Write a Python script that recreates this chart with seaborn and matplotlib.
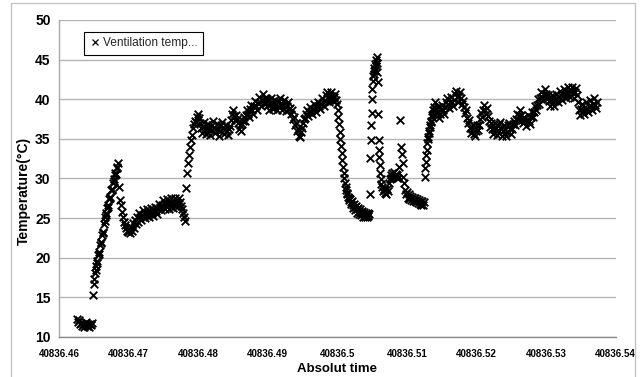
import numpy as np
import pandas as pd
import matplotlib
matplotlib.use("Agg")
import matplotlib.pyplot as plt
import seaborn as sns
from matplotlib.lines import Line2D
from matplotlib.patches import Rectangle
from matplotlib import font_manager

# ---------------- data ----------------
# logged samples, each segment evenly spaced in time between start and end
seg_start = [40836.462588, 40836.464888, 40836.468626, 40836.478258, 40836.499966,
             40836.504710, 40836.506435, 40836.512545, 40836.514054]
seg_end = [40836.464744, 40836.468482, 40836.478114, 40836.499822, 40836.504566,
           40836.506291, 40836.512473, 40836.513910, 40836.537343]

temp_a = [12.3, 11.9, 12.1, 11.6, 11.8, 11.4, 11.7, 11.3, 11.6, 11.9, 11.4, 11.7, 11.2, 11.6, 11.5, 11.8]

temp_b = [15.3, 16.7, 17.3, 18.1, 18.5, 18.9,
          19.6, 19.4, 20.4, 20.7, 20.5, 21.6, 22.0, 21.8, 22.9, 23.3, 23.1, 24.2, 24.6, 25.1,
          25.6, 25.4, 26.3, 26.6, 26.4, 27.4, 27.7, 27.6, 28.5, 28.7, 28.6, 29.4,
          29.9, 29.7, 30.5, 30.7, 30.6, 31.3, 31.5, 31.9]

temp_c = [28.9, 27.3, 26.6, 25.8, 25.2, 24.5, 24.1, 23.8, 23.4, 23.2,
          23.5, 23.1, 23.9, 23.4, 24.4, 23.8, 24.8, 24.2, 25.2, 24.5,
          25.7, 25.2, 24.8, 25.4, 26.0, 25.5, 25.0, 25.6, 26.1, 25.6,
          25.2, 25.8, 26.3, 25.7, 25.3, 25.9, 26.4, 25.9, 25.5, 26.1,
          26.8, 26.4, 26.0, 26.7, 27.3, 26.8, 26.2, 26.9, 27.4, 26.8,
          26.2, 26.9, 27.5, 26.9, 26.3, 26.8, 27.5, 27.0, 26.4, 26.9,
          27.6, 27.0, 26.5, 26.2, 25.7, 25.1, 24.6]

temp_d = [28.8, 30.7, 32.0, 33.0, 34.0, 34.8, 35.5, 36.4, 36.9, 37.3,
          37.1, 37.7, 38.2,
          37.6, 37.0, 36.4, 35.8, 36.5, 37.1, 36.3, 35.6, 36.2, 36.9,
          36.3, 35.5, 36.1, 36.8, 37.2, 36.4, 35.7, 36.3, 36.9, 36.1,
          35.4, 36.0, 36.7, 37.1, 36.4, 35.6, 36.2, 36.8, 36.0, 35.5,
          36.3, 36.6,
          37.4, 38.2, 38.6, 37.9, 37.4, 38.0, 37.5, 37.0,
          36.3, 36.8, 36.0, 36.9, 37.3, 37.8, 37.2,
          38.0, 38.6, 38.1, 37.8, 38.8, 39.3, 38.6, 38.2, 39.2, 39.8,
          39.2, 38.7, 39.5, 40.3, 39.6, 39.1, 39.9, 40.7, 40.0, 39.4,
          40.2, 40.0, 39.3, 38.7, 39.4, 40.1, 39.6, 38.8, 39.2, 39.9,
          39.4, 38.6, 39.1, 39.8, 40.1, 39.3, 38.7, 39.3, 39.9, 39.2,
          38.5, 39.1, 39.6, 38.8,
          38.9, 38.2, 38.6, 37.5, 37.8, 36.8, 37.0, 36.0, 36.2, 35.4,
          35.2, 35.9, 36.4, 37.0, 37.5,
          37.6, 38.2, 38.6, 37.9, 38.4, 39.0, 38.5, 38.1, 38.8, 39.4,
          38.9, 38.4, 39.1, 39.7, 39.2, 38.8, 39.4, 40.1, 39.6, 39.2,
          39.8, 40.5, 40.9, 40.1, 39.7, 40.3, 40.9, 40.4, 39.8, 40.3,
          40.6, 39.9]

temp_e = [39.4, 38.6, 37.8, 36.9, 35.9, 35.0, 34.1, 33.2, 32.3, 31.5,
          30.7, 30.0, 29.4, 28.9, 28.6, 28.2, 28.0, 27.7, 27.5, 27.3,
          27.4, 27.0,
          26.8, 27.2, 26.6, 26.3, 26.8, 26.4, 26.0, 26.5, 26.1, 25.7,
          26.3, 25.9, 25.5, 26.1, 25.8, 25.4, 25.9, 25.6, 25.2, 25.8,
          25.5, 25.1, 25.7, 25.4, 25.1, 25.6, 25.3, 25.5]

temp_f = [28.1, 32.6, 34.8, 36.8, 38.3, 40.0, 41.3, 42.3, 42.9, 43.6,
          43.2, 44.0, 43.7, 44.5, 44.2, 44.9, 45.3, 44.6, 43.4, 42.2,
          38.2, 34.8, 33.6, 32.7, 31.7, 30.7, 29.9, 29.3]

temp_g = [28.9, 28.4, 28.7, 28.2, 28.6, 28.1, 28.7, 28.4, 29.4, 29.9,
          30.4, 30.0, 30.7, 30.2, 30.8, 30.3, 30.6, 30.1, 30.5, 30.0,
          31.4, 37.4, 34.0, 33.1, 31.9, 30.2, 29.4, 28.6, 28.0, 28.3,
          27.6, 28.0, 27.4, 27.8, 27.3, 27.7, 27.2, 27.6, 27.1, 27.5,
          27.0, 27.4, 26.9, 27.3, 26.8, 27.2, 26.7, 27.1, 26.6, 27.0]

temp_h = [30.2, 31.3, 32.1, 33.0, 33.6, 34.5, 35.2, 35.0, 36.0, 35.8,
          36.7, 36.5, 37.3, 37.1, 38.0, 37.7, 38.6, 38.2, 39.0, 38.6]

temp_i = [39.6, 38.9, 38.3, 39.0, 37.6, 38.2, 38.8, 39.3, 38.6, 38.2,
          39.0, 39.7, 40.1, 39.4, 38.9, 39.6, 40.3, 39.7, 39.2, 39.9,
          40.6, 41.0, 40.3, 39.7, 40.4, 40.9, 40.1, 39.4,
          39.8, 39.0, 38.3, 38.6, 37.6, 37.0, 37.4, 36.4, 35.8, 36.3,
          36.8, 35.6, 35.3, 36.0, 36.7, 36.1,
          36.8, 37.5, 38.3, 37.7, 38.6, 39.3, 38.7, 38.1, 38.9,
          37.9, 37.2, 36.5, 37.0, 36.2, 35.6, 36.3, 37.0, 36.4, 35.5,
          36.1, 36.9, 37.1, 36.3, 35.4, 36.0, 36.7, 36.2, 35.3, 35.9,
          36.8, 37.0, 36.3, 35.6, 36.2, 36.9, 37.3,
          36.7, 37.5, 38.1, 37.4, 38.0, 38.7, 38.0, 37.4, 37.0,
          37.8, 37.2, 36.6, 37.4, 38.0, 37.3, 36.9, 37.7, 38.4,
          37.8, 38.4, 39.1, 38.6, 39.3, 40.0, 39.4, 40.2, 40.9, 40.3,
          39.9, 40.7, 41.3, 40.6, 40.0,
          40.5, 39.8, 39.2, 39.9, 40.5, 39.6, 39.1, 39.8, 40.6, 40.1,
          39.6, 40.3, 41.0, 40.5, 39.9, 40.6, 41.3, 40.7, 40.1, 40.8,
          41.5, 40.9, 40.3, 41.0, 41.6, 40.8, 40.2, 40.9, 41.4, 40.5,
          39.6, 38.6, 38.0, 38.8, 39.4, 38.5, 38.2, 39.0, 39.6, 38.8,
          38.4, 39.2, 39.9, 39.1, 38.6, 39.4, 40.1, 39.3, 38.9, 39.7]

segments = [temp_a, temp_b, temp_c, temp_d, temp_e, temp_f, temp_g, temp_h, temp_i]

xtick_values = [40836.46, 40836.47, 40836.48, 40836.49, 40836.50,
                40836.51, 40836.52, 40836.53, 40836.54]
xtick_labels = ["40836.46", "40836.47", "40836.48", "40836.49", "40836.5",
                "40836.51", "40836.52", "40836.53", "40836.54"]
ytick_values = [10, 15, 20, 25, 30, 35, 40, 45, 50]
series_label = "Ventilation temp..."
x_title = "Absolut time"
y_title = "Temperature(°C)"

# ---------------- build table ----------------
time = np.concatenate([np.linspace(s, e, len(t)) for s, e, t in zip(seg_start, seg_end, segments)])
temp = np.concatenate([np.asarray(t, dtype=float) for t in segments])
df = pd.DataFrame({"time": time, "temp": temp})

# ---------------- style ----------------
available = {f.name for f in font_manager.fontManager.ttflist}
narrow = "Liberation Sans Narrow" if "Liberation Sans Narrow" in available else None

sns.set_theme(style="white")
plt.rcParams["font.family"] = ["Liberation Sans", "DejaVu Sans"]

W, H = 641, 377
fig = plt.figure(figsize=(W / 100, H / 100), dpi=100)
fig.patch.set_facecolor("white")
ax = fig.add_axes([59 / W, 1 - 337 / H, (615.5 - 59) / W, (337 - 20) / H])

sns.scatterplot(data=df, x="time", y="temp", marker="x", color="black",
                s=30, linewidth=1.35, ax=ax, legend=False, zorder=3)

ax.set_xlim(xtick_values[0], xtick_values[-1])
ax.set_ylim(ytick_values[0], ytick_values[-1])
ax.set_xticks(xtick_values)
if narrow:
    ax.set_xticklabels(xtick_labels, fontfamily=narrow, fontweight="bold", fontsize=7.6)
else:
    ax.set_xticklabels(xtick_labels, fontfamily="Liberation Sans", fontweight="bold", fontsize=7)
ax.set_yticks(ytick_values)
ax.set_yticklabels([str(v) for v in ytick_values], fontfamily="Liberation Sans",
                   fontweight="bold", fontsize=10)

ax.yaxis.grid(True, color="#b4b4b4", linewidth=1.0)
ax.xaxis.grid(False)
ax.set_axisbelow(True)

for side in ["top", "right"]:
    ax.spines[side].set_visible(False)
ax.spines["left"].set_color("#a8a8a8")
ax.spines["bottom"].set_color("#8c8c8c")
ax.spines["left"].set_linewidth(1.0)
ax.spines["bottom"].set_linewidth(1.0)
ax.tick_params(axis="x", direction="out", length=3.5, width=0.8, pad=5, labelcolor="black", color="#8c8c8c")
ax.tick_params(axis="y", direction="out", length=3, width=0.8, pad=3, labelcolor="black", color="#b4b4b4")

ax.set_xlabel(x_title, fontfamily="Liberation Sans", fontweight="bold", fontsize=9.5, color="black")
ax.set_ylabel(y_title, fontfamily="Liberation Sans", fontweight="bold", fontsize=10, color="black")
ax.xaxis.set_label_coords(0.5, -0.083)
ax.yaxis.set_label_coords(-0.051, 0.46)

handle = Line2D([0], [0], marker="x", linestyle="none", color="black",
                markersize=5, markeredgewidth=0.9)
leg = ax.legend(handles=[handle], labels=[series_label], loc="upper left",
                bbox_to_anchor=((84 - 59) / 556.5, (337 - 32) / 317),
                frameon=True, fancybox=False, borderpad=0.45, handletextpad=0.2,
                handlelength=0.9, borderaxespad=0,
                prop={"family": narrow or "Liberation Sans", "size": 8.6})
leg.get_frame().set_edgecolor("black")
leg.get_frame().set_linewidth(0.8)
leg.get_frame().set_facecolor("white")
leg.get_frame().set_alpha(1)

fig.add_artist(Rectangle((11 / W, -0.02), (635 - 11) / W, 1.02 - 3 / H,
                         transform=fig.transFigure, fill=False,
                         edgecolor="#c4c4c4", linewidth=1.0))

fig.savefig("out.png", dpi=100, facecolor="white")
